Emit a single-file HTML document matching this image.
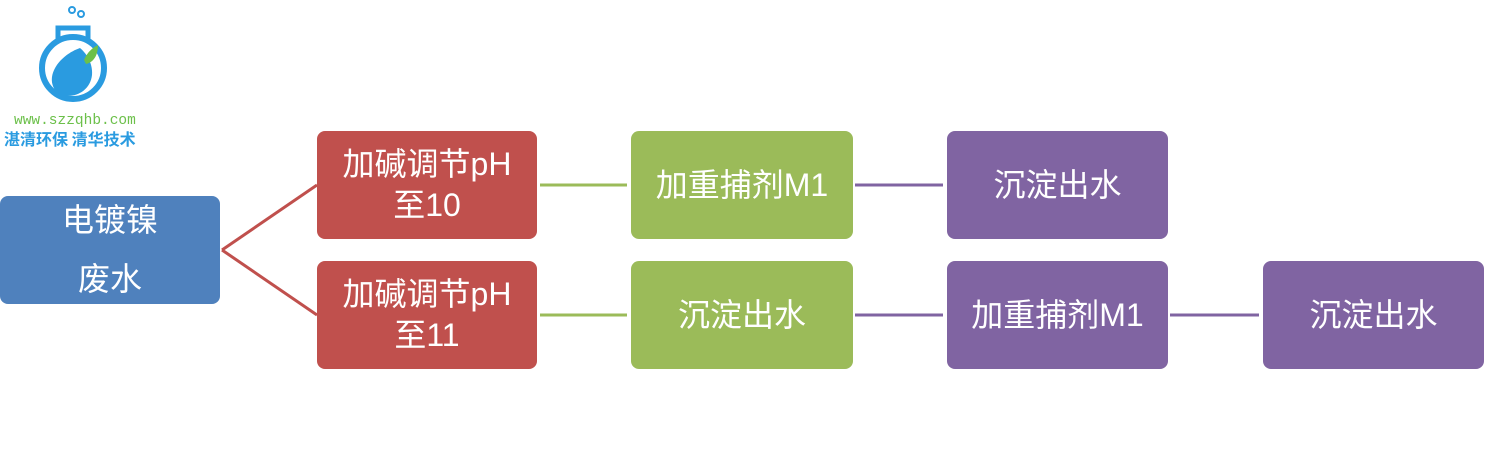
<!DOCTYPE html>
<html><head><meta charset="utf-8"><style>
body{margin:0;width:1488px;height:465px;background:#fff;position:relative;overflow:hidden;font-family:"Liberation Sans","Noto Sans CJK SC",sans-serif}
.b{position:absolute;border-radius:8px;color:#fff;display:flex;align-items:center;justify-content:center;text-align:center;font-size:32px;line-height:41px}
.bl{background:#4F81BD}.r{background:#C0504D}.g{background:#9BBB59}.p{background:#8064A2}
</style></head><body>
<svg width="1488" height="465" style="position:absolute;left:0;top:0">
<circle cx="73" cy="68" r="31" fill="none" stroke="#2a9be0" stroke-width="6"/>
<path d="M58 42 L58 28 L88 28 L88 42" fill="none" stroke="#2a9be0" stroke-width="5"/>
<path d="M80 48 C60 55 45 75 55 90 C65 102 90 95 92 75 C93 62 85 52 80 48Z" fill="#2a9be0"/>
<path d="M84 60 C88 50 96 46 98 45 C98 55 94 62 86 64Z" fill="#6cc04a"/>
<circle cx="72" cy="10" r="3" fill="none" stroke="#2a9be0" stroke-width="2"/>
<circle cx="81" cy="14" r="3" fill="none" stroke="#2a9be0" stroke-width="2"/>
<text x="14" y="124" font-family="Liberation Mono,monospace" font-size="14.5" fill="#6cc04a">www.szzqhb.com</text>
<text x="4" y="145" font-family="Noto Sans CJK SC,sans-serif" font-size="16" font-weight="bold" fill="#2a9be0">湛清环保 清华技术</text>
<g stroke-width="3" fill="none">
<path d="M222 250 L317 185 M222 250 L317 315" stroke="#C0504D"/>
<path d="M540 185 L627 185 M540 315 L627 315" stroke="#9BBB59"/>
<path d="M855 185 L943 185 M855 315 L943 315 M1170 315 L1259 315" stroke="#8064A2"/>
</g></svg>
<div class="b bl" style="left:0;top:196px;width:220px;height:108px;line-height:59px">电镀镍<br>废水</div>
<div class="b r" style="left:317px;top:131px;width:220px;height:108px">加碱调节pH<br>至10</div>
<div class="b r" style="left:317px;top:261px;width:220px;height:108px">加碱调节pH<br>至11</div>
<div class="b g" style="left:631px;top:131px;width:222px;height:108px">加重捕剂M1</div>
<div class="b g" style="left:631px;top:261px;width:222px;height:108px">沉淀出水</div>
<div class="b p" style="left:947px;top:131px;width:221px;height:108px">沉淀出水</div>
<div class="b p" style="left:947px;top:261px;width:221px;height:108px">加重捕剂M1</div>
<div class="b p" style="left:1263px;top:261px;width:221px;height:108px">沉淀出水</div>
</body></html>
